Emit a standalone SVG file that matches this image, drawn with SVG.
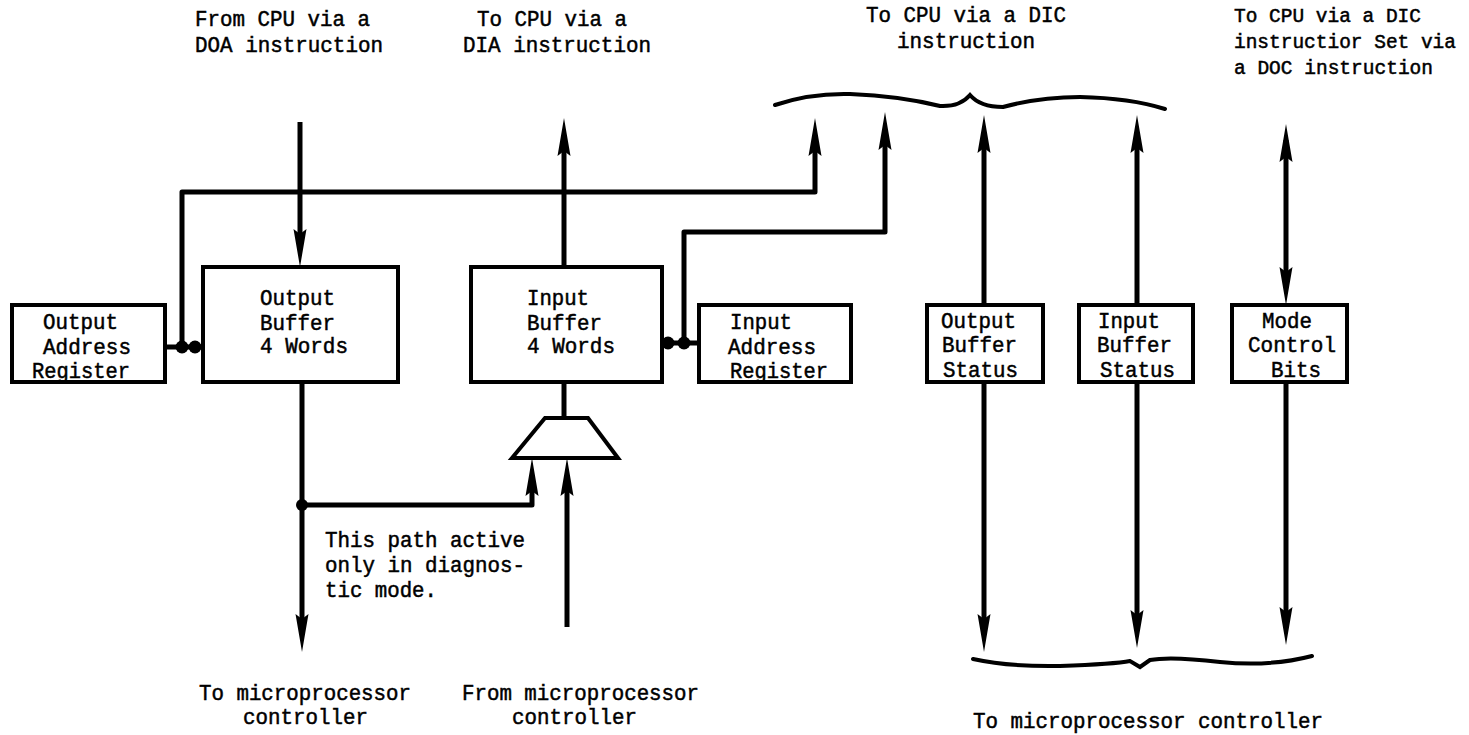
<svg xmlns="http://www.w3.org/2000/svg" width="1469" height="735" viewBox="0 0 1469 735">
<style>
  text { font-family: "Liberation Mono", "DejaVu Sans Mono", monospace; font-size: 22px; fill: #000; stroke: #000; stroke-width: 0.5; }
  text.sm { font-size: 19.5px; }
  .box { fill: #fff; stroke: #000; stroke-width: 4; }
  .wire { fill: none; stroke: #000; stroke-width: 5; stroke-linejoin: round; }
  .brace { fill: none; stroke: #000; stroke-width: 4; stroke-linecap: round; }
</style>
<defs>
  <marker id="ah" viewBox="0 0 38 14" refX="16" refY="7" markerWidth="38" markerHeight="14" markerUnits="userSpaceOnUse" orient="auto">
    <path d="M0,0.5 L38,7 L0,13.5 L5,7 Z" fill="#000"/>
  </marker>
  <marker id="ahs" viewBox="0 0 38 14" refX="22" refY="7" markerWidth="38" markerHeight="14" markerUnits="userSpaceOnUse" orient="auto-start-reverse">
    <path d="M0,0.5 L38,7 L0,13.5 L5,7 Z" fill="#000"/>
  </marker>
</defs>

<rect width="1469" height="735" fill="#fff"/>

<g id="labels">
  <text x="195" y="26" textLength="175" lengthAdjust="spacingAndGlyphs">From CPU via a</text>
  <text x="195" y="52" textLength="188" lengthAdjust="spacingAndGlyphs">DOA instruction</text>
  <text x="477" y="26" textLength="150" lengthAdjust="spacingAndGlyphs">To CPU via a</text>
  <text x="463" y="52" textLength="188" lengthAdjust="spacingAndGlyphs">DIA instruction</text>
  <text x="866" y="22" textLength="200" lengthAdjust="spacingAndGlyphs">To CPU via a DIC</text>
  <text x="897" y="48" textLength="138" lengthAdjust="spacingAndGlyphs">instruction</text>
  <text class="sm" x="1234" y="22" textLength="187" lengthAdjust="spacingAndGlyphs">To CPU via a DIC</text>
  <text class="sm" x="1234" y="48" textLength="222" lengthAdjust="spacingAndGlyphs">instructior Set via</text>
  <text class="sm" x="1234" y="74" textLength="199" lengthAdjust="spacingAndGlyphs">a DOC instruction</text>
  <text x="325" y="547" textLength="200" lengthAdjust="spacingAndGlyphs">This path active</text>
  <text x="325" y="572" textLength="200" lengthAdjust="spacingAndGlyphs">only in diagnos-</text>
  <text x="325" y="597" textLength="112" lengthAdjust="spacingAndGlyphs">tic mode.</text>
  <text x="199" y="700" textLength="212" lengthAdjust="spacingAndGlyphs">To microprocessor</text>
  <text x="243" y="724" textLength="125" lengthAdjust="spacingAndGlyphs">controller</text>
  <text x="462" y="700" textLength="237" lengthAdjust="spacingAndGlyphs">From microprocessor</text>
  <text x="512" y="724" textLength="125" lengthAdjust="spacingAndGlyphs">controller</text>
  <text x="973" y="728" textLength="350" lengthAdjust="spacingAndGlyphs">To microprocessor controller</text>
</g>

<g id="connectors">
  <path class="wire" d="M182,347 V192 H815 V140" marker-end="url(#ah)"/>
  <path class="wire" d="M684,343 V232 H885 V134" marker-end="url(#ah)"/>
  <line class="wire" x1="165" y1="347" x2="203" y2="347"/>
  <line class="wire" x1="662" y1="343" x2="699" y2="343"/>
  <path class="wire" d="M300,122 V245" marker-end="url(#ah)"/>
  <path class="wire" d="M564,267 V140" marker-end="url(#ah)"/>
  <path class="wire" d="M302,382 V630" marker-end="url(#ah)"/>
  <path class="wire" d="M302,505 H532 V480" marker-end="url(#ah)"/>
  <path class="wire" d="M567,627 V480" marker-end="url(#ah)"/>
  <line class="wire" x1="564" y1="382" x2="564" y2="418"/>
  <path class="wire" d="M984,305 V137" marker-end="url(#ah)"/>
  <path class="wire" d="M984,382 V630" marker-end="url(#ah)"/>
  <path class="wire" d="M1137,305 V137" marker-end="url(#ah)"/>
  <path class="wire" d="M1137,382 V626" marker-end="url(#ah)"/>
  <path class="wire" d="M1286,140 V283" marker-start="url(#ahs)" marker-end="url(#ah)"/>
  <path class="wire" d="M1286,382 V623" marker-end="url(#ah)"/>
  <circle cx="182" cy="347" r="6.5"/>
  <circle cx="195" cy="347" r="6.5"/>
  <circle cx="668" cy="343" r="6.5"/>
  <circle cx="684" cy="343" r="6.5"/>
  <circle cx="302" cy="505" r="6"/>
  <path class="brace" d="M775,105 Q810,93 850,94 Q900,96 940,106 Q960,107 970,95 Q980,107 1003,107 Q1040,97 1080,97 Q1130,98 1165,109"/>
  <path class="brace" d="M973,659 Q1010,667 1060,666 Q1115,664 1130,661 L1140,667 L1150,660 Q1170,656 1220,662 Q1270,667 1312,656"/>
</g>

<g id="output-address-register">
  <rect class="box" x="12" y="305" width="153" height="77"/>
  <text x="43" y="329" textLength="75" lengthAdjust="spacingAndGlyphs">Output</text>
  <text x="43" y="354" textLength="88" lengthAdjust="spacingAndGlyphs">Address</text>
  <text x="32" y="378" textLength="98" lengthAdjust="spacingAndGlyphs">Register</text>
</g>
<g id="output-buffer">
  <rect class="box" x="203" y="267" width="195" height="115"/>
  <text x="260" y="305" textLength="75" lengthAdjust="spacingAndGlyphs">Output</text>
  <text x="260" y="330" textLength="75" lengthAdjust="spacingAndGlyphs">Buffer</text>
  <text x="260" y="353" textLength="88" lengthAdjust="spacingAndGlyphs">4 Words</text>
</g>
<g id="input-buffer">
  <rect class="box" x="471" y="267" width="191" height="115"/>
  <text x="527" y="305" textLength="62" lengthAdjust="spacingAndGlyphs">Input</text>
  <text x="527" y="330" textLength="75" lengthAdjust="spacingAndGlyphs">Buffer</text>
  <text x="527" y="353" textLength="88" lengthAdjust="spacingAndGlyphs">4 Words</text>
</g>
<g id="mux">
  <polygon points="545,418 588,418 618,458 512,458" fill="#fff" stroke="#000" stroke-width="4" stroke-linejoin="miter"/>
</g>
<g id="input-address-register">
  <rect class="box" x="699" y="305" width="152" height="77"/>
  <text x="730" y="329" textLength="62" lengthAdjust="spacingAndGlyphs">Input</text>
  <text x="728" y="354" textLength="88" lengthAdjust="spacingAndGlyphs">Address</text>
  <text x="730" y="378" textLength="98" lengthAdjust="spacingAndGlyphs">Register</text>
</g>
<g id="output-buffer-status">
  <rect class="box" x="927" y="305" width="116" height="77"/>
  <text x="941" y="328" textLength="75" lengthAdjust="spacingAndGlyphs">Output</text>
  <text x="942" y="352" textLength="75" lengthAdjust="spacingAndGlyphs">Buffer</text>
  <text x="943" y="377" textLength="75" lengthAdjust="spacingAndGlyphs">Status</text>
</g>
<g id="input-buffer-status">
  <rect class="box" x="1079" y="305" width="114" height="77"/>
  <text x="1098" y="328" textLength="62" lengthAdjust="spacingAndGlyphs">Input</text>
  <text x="1097" y="352" textLength="75" lengthAdjust="spacingAndGlyphs">Buffer</text>
  <text x="1100" y="377" textLength="75" lengthAdjust="spacingAndGlyphs">Status</text>
</g>
<g id="mode-control-bits">
  <rect class="box" x="1232" y="305" width="115" height="77"/>
  <text x="1262" y="328" textLength="50" lengthAdjust="spacingAndGlyphs">Mode</text>
  <text x="1248" y="352" textLength="88" lengthAdjust="spacingAndGlyphs">Control</text>
  <text x="1271" y="377" textLength="50" lengthAdjust="spacingAndGlyphs">Bits</text>
</g>
</svg>
